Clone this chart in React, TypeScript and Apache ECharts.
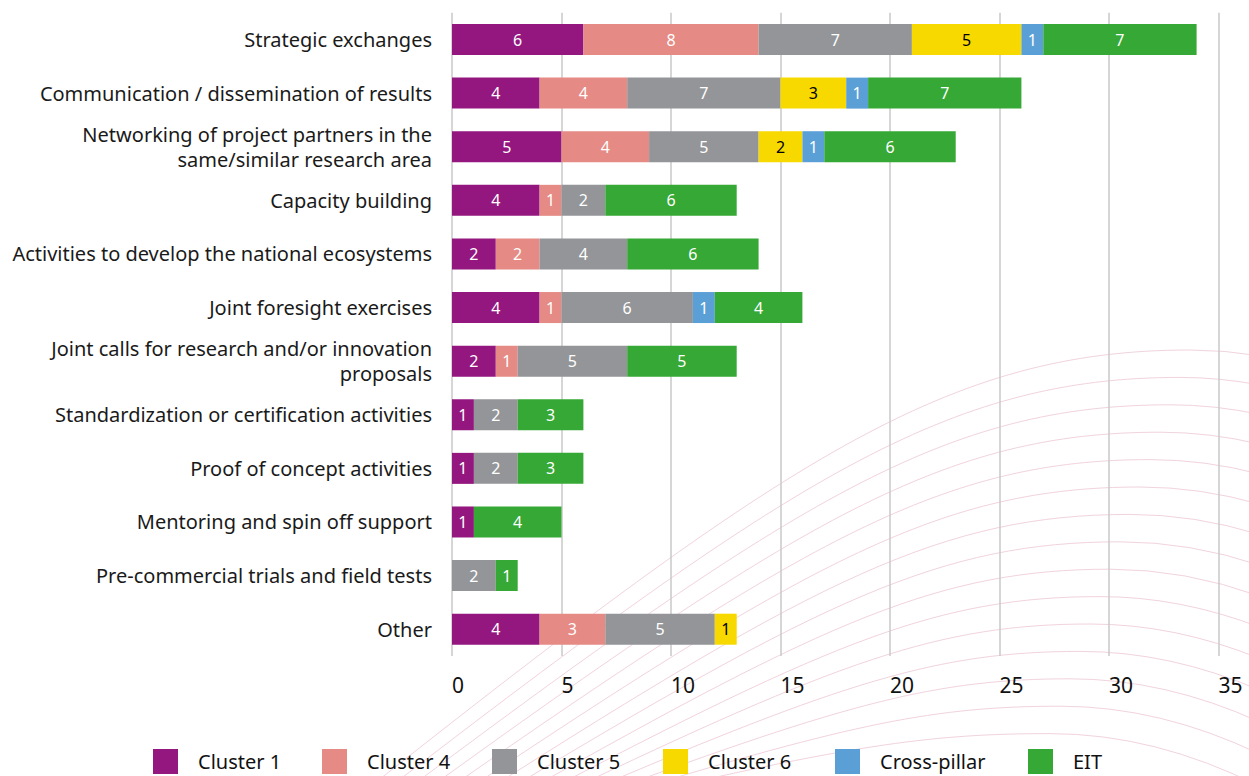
import React, { useEffect, useRef } from "react";
import * as echarts from "echarts";

const categories = [
  "Strategic exchanges",
  "Communication / dissemination of results",
  "Networking of project partners in the\nsame/similar research area",
  "Capacity building",
  "Activities to develop the national ecosystems",
  "Joint foresight exercises",
  "Joint calls for research and/or innovation\nproposals",
  "Standardization or certification activities",
  "Proof of concept activities",
  "Mentoring and spin off support",
  "Pre-commercial trials and field tests",
  "Other",
];

const seriesNames = ["Cluster 1", "Cluster 4", "Cluster 5", "Cluster 6", "Cross-pillar", "EIT"];
const cluster1 = [6, 4, 5, 4, 2, 4, 2, 1, 1, 1, null, 4];
const cluster4 = [8, 4, 4, 1, 2, 1, 1, null, null, null, null, 3];
const cluster5 = [7, 7, 5, 2, 4, 6, 5, 2, 2, null, 2, 5];
const cluster6 = [5, 3, 2, null, null, null, null, null, null, null, null, 1];
const crossPillar = [1, 1, 1, null, null, 1, null, null, null, null, null, null];
const eit = [7, 7, 6, 6, 6, 4, 5, 3, 3, 4, 1, null];

const colors = ["#93177e", "#e58a84", "#939598", "#f7d900", "#5a9fd6", "#35a835"];
const labelColors = ["#ffffff", "#ffffff", "#ffffff", "#000000", "#ffffff", "#ffffff"];
const legendLefts = [153, 322, 492, 663, 835, 1028];

const FONT = "'Noto Sans', 'DejaVu Sans', sans-serif";

function buildCurves() {
  const els: any[] = [];
  const stroke = "#f1d3de";
  for (let i = 0; i < 15; i++) {
    const x0 = 385 + 20 * i;
    const y0 = 776;
    const px = 1190 - 10 * i;
    const py = 350 + 27.4 * i;
    const rise = y0 - py;
    const dx = px - x0;
    els.push({
      type: "bezierCurve",
      silent: true,
      z: -10,
      shape: {
        x1: x0 - 24,
        y1: y0 + 18,
        cpx1: x0 + 0.5 * dx,
        cpy1: y0 - 0.75 * rise,
        cpx2: px - 0.3 * dx,
        cpy2: py,
        x2: px,
        y2: py,
      },
      style: { stroke, lineWidth: 1, fill: null },
    });
    const xe = 1260;
    els.push({
      type: "bezierCurve",
      silent: true,
      z: -10,
      shape: {
        x1: px,
        y1: py,
        cpx1: (px + xe) / 2,
        cpy1: py,
        x2: xe,
        y2: py + 0.0012 * (xe - px) * (xe - px),
      },
      style: { stroke, lineWidth: 1, fill: null },
    });
  }
  return els;
}

export default function App() {
  const ref = useRef<HTMLDivElement>(null);
  useEffect(() => {
    if (!ref.current) return;
    const chart = echarts.init(ref.current, null, { renderer: "svg" });
    const dataSets = [cluster1, cluster4, cluster5, cluster6, crossPillar, eit];
    const option: any = {
      animation: false,
      backgroundColor: "#ffffff",
      textStyle: { fontFamily: FONT },
      graphic: { elements: buildCurves() },
      grid: { left: 452, right: 30.5, top: 12.7, bottom: 120, containLabel: false },
      xAxis: {
        type: "value",
        min: 0,
        max: 35,
        interval: 5,
        axisLine: { show: false },
        axisTick: { show: false },
        splitLine: { show: true, lineStyle: { color: "#c8c8c8", width: 1.5 } },
        axisLabel: {
          fontSize: 21,
          color: "#111111",
          align: "left",
          margin: 18,
          fontFamily: FONT,
        },
      },
      yAxis: {
        type: "category",
        data: categories,
        inverse: true,
        axisLine: { show: false },
        axisTick: { show: false },
        axisLabel: {
          fontSize: 20,
          color: "#1a1a1a",
          margin: 20,
          lineHeight: 25,
          fontFamily: FONT,
        },
      },
      legend: seriesNames.map((n, i) => ({
        data: [n],
        left: legendLefts[i],
        top: 749,
        padding: 0,
        itemGap: 0,
        itemWidth: 25,
        itemHeight: 25,
        icon: "rect",
        selectedMode: false,
        textStyle: { fontSize: 20, color: "#111111", fontFamily: FONT, padding: [0, 0, 0, 15] },
      })),
      series: seriesNames.map((n, i) => ({
        name: n,
        type: "bar",
        stack: "total",
        barWidth: 31,
        data: dataSets[i],
        itemStyle: { color: colors[i] },
        label: {
          show: true,
          position: "inside",
          color: labelColors[i],
          fontSize: 16,
          fontFamily: FONT,
        },
      })),
    };
    chart.setOption(option);
    return () => chart.dispose();
  }, []);
  return (
    <div
      ref={ref}
      style={{ position: "absolute", left: 0, top: 0, width: 1249, height: 776 }}
    />
  );
}
